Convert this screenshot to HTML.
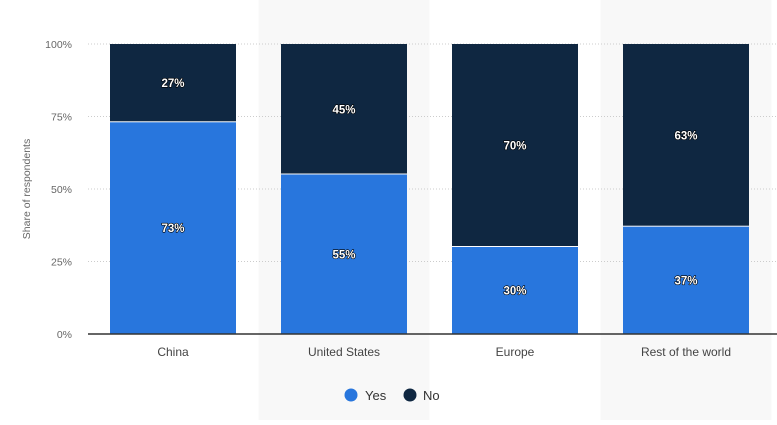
<!DOCTYPE html>
<html><head><meta charset="utf-8"><style>
body{margin:0;background:#fff;font-family:"Liberation Sans",sans-serif;}
svg text{font-family:"Liberation Sans",sans-serif;}
</style></head><body>
<svg width="777" height="420" xmlns="http://www.w3.org/2000/svg">
<g id="bands"></g>
<g id="grid"></g>
<g id="bars"></g>
<line x1="88" x2="777" y1="334" y2="334" stroke="#333" stroke-width="1.5"/>
<text x="0" y="0" transform="translate(30,189) rotate(-90)" text-anchor="middle" font-size="10.5" fill="#666">Share of respondents</text>
<g>
<circle cx="351" cy="395" r="6.5" fill="#2876dd"/>
<text x="365" y="400" font-size="13" fill="#333">Yes</text>
<circle cx="410" cy="395" r="6.5" fill="#0f2741"/>
<text x="423" y="400" font-size="13" fill="#333">No</text>
</g>
</svg>
<script>
const categories=["China","United States","Europe","Rest of the world"];
const yesValues=[73,55,30,37];
const noValues=[27,45,70,63];
const yTicks=[0,25,50,75,100];
const NS="http://www.w3.org/2000/svg";
const x0=87.5,bandW=171,barW=126,yTop=44,yBot=334;
const y=v=>yBot-(v/100)*(yBot-yTop);
const bands=document.getElementById('bands'),grid=document.getElementById('grid'),bars=document.getElementById('bars');
function mk(tag,attrs,parent){const e=document.createElementNS(NS,tag);for(const k in attrs)e.setAttribute(k,attrs[k]);parent.appendChild(e);return e;}
categories.forEach((c,i)=>{
  if(i%2===1){const b=mk('rect',{x:x0+i*bandW,y:0,width:bandW,height:420,fill:'#f8f8f8'},bands);
  
  }
});
yTicks.forEach(t=>{
  if(t>0){const l=mk('line',{x1:88,x2:777,y1:y(t),y2:y(t),stroke:'#ccc','stroke-dasharray':'1,2'},grid);
  
  }
  const tx=mk('text',{x:72,y:y(t)+4,'text-anchor':'end','font-size':10.5,fill:'#666'},grid);
  tx.textContent=t+'%';
  
  
});
categories.forEach((c,i)=>{
  const cx=x0+i*bandW+bandW/2, bx=cx-barW/2;
  const yv=yesValues[i], nv=noValues[i];
  const r1=mk('rect',{x:bx,y:y(yv),width:barW,height:yBot-y(yv),fill:'#2876dd'},bars);
  
  
  const r2=mk('rect',{x:bx,y:y(yv+nv),width:barW,height:y(yv)-y(yv+nv)-1,fill:'#0f2741'},bars);
  
  
  [[yv,(y(yv)+yBot)/2],[nv,(y(yv+nv)+y(yv))/2]].forEach(([v,ly])=>{
    const t=mk('text',{x:cx,y:ly+4,'text-anchor':'middle','font-size':11.5,'font-weight':'bold',fill:'#fff',stroke:'#000','stroke-width':1.2,'stroke-linejoin':'round','paint-order':'stroke'},bars);
    t.textContent=v+'%';
    
    
  });
  const cl=mk('text',{x:cx,y:356,'text-anchor':'middle','font-size':12,fill:'#444'},bars);
  cl.textContent=c;
  
  
});
</script>
</body></html>
